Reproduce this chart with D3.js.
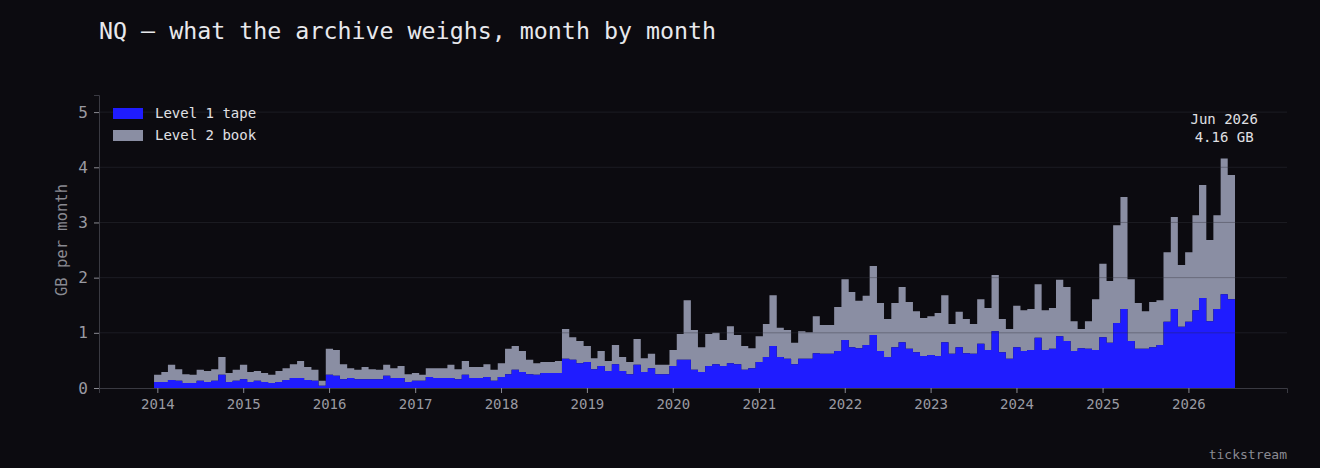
<!DOCTYPE html>
<html><head><meta charset="utf-8">
<script src="https://cdn.jsdelivr.net/npm/d3@7"></script>
<style>html,body{margin:0;background:#0c0b10;}svg{display:block;font-family:"DejaVu Sans Mono",monospace;}</style>
</head><body><svg id="c" width="1320" height="468"></svg>
<script>
const startMonth = "2014-01";
const level1 = [0.11,0.11,0.145,0.13,0.09,0.09,0.13,0.11,0.13,0.24,0.11,0.13,
0.16,0.11,0.13,0.11,0.09,0.11,0.145,0.18,0.18,0.145,0.13,0.04,
0.24,0.22,0.16,0.18,0.16,0.16,0.16,0.16,0.22,0.18,0.18,0.11,
0.13,0.13,0.20,0.18,0.18,0.18,0.16,0.24,0.18,0.18,0.20,0.13,
0.20,0.25,0.33,0.29,0.25,0.24,0.27,0.27,0.27,0.53,0.51,0.45,
0.47,0.34,0.40,0.31,0.43,0.31,0.25,0.42,0.29,0.36,0.25,0.25,
0.40,0.51,0.51,0.33,0.29,0.40,0.43,0.40,0.45,0.43,0.33,0.36,
0.47,0.56,0.76,0.56,0.53,0.43,0.53,0.53,0.63,0.62,0.62,0.67,
0.87,0.74,0.72,0.78,0.96,0.67,0.56,0.74,0.83,0.71,0.65,0.58,
0.60,0.58,0.83,0.62,0.74,0.63,0.62,0.80,0.69,1.03,0.65,0.53,
0.74,0.67,0.69,0.91,0.69,0.71,0.94,0.85,0.67,0.72,0.71,0.69,
0.92,0.82,1.18,1.43,0.85,0.71,0.71,0.74,0.78,1.20,1.43,1.11,
1.20,1.41,1.63,1.21,1.43,1.70,1.61];
const totals = [0.24,0.29,0.42,0.34,0.25,0.24,0.33,0.31,0.34,0.56,0.27,0.33,
0.42,0.29,0.31,0.27,0.24,0.31,0.36,0.43,0.49,0.38,0.33,0.13,
0.71,0.69,0.43,0.36,0.33,0.38,0.34,0.33,0.42,0.36,0.40,0.25,
0.27,0.24,0.36,0.36,0.36,0.42,0.34,0.49,0.38,0.38,0.43,0.33,
0.45,0.71,0.76,0.67,0.51,0.45,0.47,0.47,0.49,1.07,0.92,0.85,
0.76,0.54,0.67,0.49,0.78,0.56,0.47,0.89,0.54,0.62,0.42,0.42,
0.69,0.98,1.59,1.05,0.74,0.98,1.00,0.87,1.12,0.96,0.76,0.72,
0.94,1.16,1.68,1.09,1.05,0.82,1.03,1.01,1.30,1.14,1.14,1.47,
1.97,1.74,1.58,1.67,2.21,1.54,1.25,1.54,1.83,1.56,1.39,1.27,
1.30,1.36,1.68,1.16,1.38,1.25,1.16,1.61,1.45,2.05,1.25,1.07,
1.49,1.41,1.43,1.88,1.41,1.45,1.96,1.83,1.21,1.07,1.21,1.61,
2.25,1.94,2.95,3.46,1.97,1.54,1.39,1.56,1.59,2.46,3.10,2.23,
2.46,3.13,3.68,2.68,3.13,4.16,3.86];
const yTicks = [0,1,2,3,4,5];
const xTickYears = [2014,2015,2016,2017,2018,2019,2020,2021,2022,2023,2024,2025,2026];
const seriesNames = ["Level 1 tape","Level 2 book"];
const colors = ["#1f1cff","#8a8ea3"];

const svg = d3.select("#c");
const x = d3.scaleTime().domain([new Date(2013,4,12), new Date(2027,2,10)]).range([99,1287]);
const y = d3.scaleLinear().domain([0,5.31]).range([388,95]);
const months = level1.map((v,i)=>new Date(2014, i, 1));
const monthEnd = m => new Date(m.getFullYear(), m.getMonth()+1, 1);

svg.append("g").selectAll("line").data(yTicks.slice(1)).join("line")
  .attr("x1",99).attr("x2",1287).attr("y1",d=>y(d)).attr("y2",d=>y(d))
  .attr("stroke","#16161c");

// stepped areas (no seams)
const stepPts = (vals) => {
  const pts = [];
  months.forEach((m,i)=>{ pts.push([x(m), y(vals[i])]); pts.push([x(monthEnd(m)), y(vals[i])]); });
  return pts;
};
const areaPath = (top, bottom) => {
  const t = stepPts(top), b = bottom ? stepPts(bottom).reverse() : [[t[t.length-1][0], y(0)],[t[0][0], y(0)]];
  return "M" + t.concat(b).map(p=>p.join(",")).join("L") + "Z";
};
svg.append("path").attr("d",areaPath(totals, level1)).attr("fill",colors[1]);
svg.append("path").attr("d",areaPath(level1, null)).attr("fill",colors[0]);

svg.append("g").selectAll("line").data(yTicks.slice(1)).join("line")
  .attr("x1",99).attr("x2",1287).attr("y1",d=>y(d)).attr("y2",d=>y(d))
  .attr("stroke","rgba(40,40,50,0.35)");

const yAx = svg.append("g").attr("transform","translate(99,0)")
  .call(d3.axisLeft(y).tickValues(yTicks).tickSize(5).tickPadding(6).tickFormat(d3.format("d")));
const xAx = svg.append("g").attr("transform","translate(0,388)")
  .call(d3.axisBottom(x).tickValues(xTickYears.map(yv=>new Date(yv,0,15))).tickSize(5).tickPadding(6).tickFormat(d3.timeFormat("%Y")));
[yAx,xAx].forEach(a=>{
  a.select(".domain").attr("stroke","#3a3a42");
  a.selectAll(".tick line").attr("stroke","#8a8a92");
  a.selectAll("text").attr("fill","#9a9aa2").style("font-family","DejaVu Sans Mono, monospace");
});
yAx.selectAll("text").attr("font-size",16);
xAx.selectAll("text").attr("font-size",14);

svg.append("text").attr("x",99).attr("y",39).attr("fill","#e8e8ec").attr("font-size",23.3).text("NQ — what the archive weighs, month by month");
svg.append("text").attr("transform","translate(67,240) rotate(-90)").attr("text-anchor","middle")
  .attr("fill","#8a8a92").attr("font-size",15.5).text("GB per month");

const lg = svg.append("g");
seriesNames.forEach((n,i)=>{
  lg.append("rect").attr("x",113).attr("y",108+i*22).attr("width",30).attr("height",11).attr("fill",colors[i]);
  lg.append("text").attr("x",155).attr("y",118+i*22).attr("fill","#e0e0e4").attr("font-size",14).text(n);
});

const pk = d3.maxIndex(totals);
const px = (x(months[pk]) + x(monthEnd(months[pk])))/2;
svg.append("text").attr("x",px).attr("y",124).attr("text-anchor","middle").attr("fill","#e0e0e4").attr("font-size",14).text(d3.timeFormat("%b %Y")(months[pk]));
svg.append("text").attr("x",px).attr("y",142).attr("text-anchor","middle").attr("fill","#e0e0e4").attr("font-size",14).text(totals[pk].toFixed(2)+" GB");

svg.append("text").attr("x",1287).attr("y",459).attr("text-anchor","end").attr("fill","#8a8a92").attr("font-size",13).text("tickstream");
</script></body></html>
